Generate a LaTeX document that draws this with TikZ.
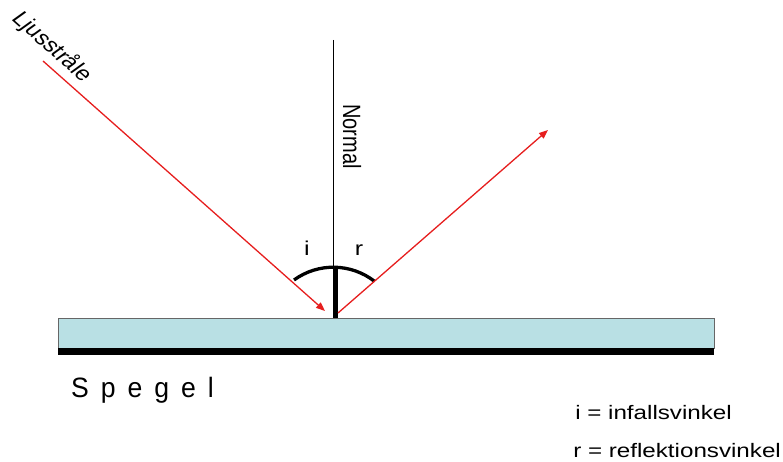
\documentclass[tikz,border=0pt]{standalone}
\usepackage{fontspec}
\setmainfont{Liberation Sans}
\usetikzlibrary{arrows.meta}
\definecolor{rayred}{RGB}{230,30,30}
\definecolor{glass}{RGB}{185,224,228}

\begin{document}
\begin{tikzpicture}[
    x=1pt, y=-1pt,
    ray/.style={draw, rayred, line width=1.3pt, -{Triangle[length=9pt,width=7pt]}},
    lbl/.style={inner sep=0pt, xscale=1.25, font=\fontsize{20}{24}\selectfont},
    key/.style={inner sep=0pt, anchor=base west, xscale=1.24, font=\fontsize{19.5}{24}\selectfont}
]
\useasboundingbox (0,0) rectangle (783,462);

% mirror
\filldraw[fill=glass, draw=black!60, line width=0.6pt] (58,318) rectangle (714,348);
\fill[black] (58,348) rectangle (714,355);

% normal and angle mark
\coordinate (top) at (333,40);
\coordinate (foot) at (333,318);
\draw[line width=0.8pt] (top) -- (foot);
\draw[line width=4pt] (335.5,267) -- (335.5,318);
\draw[line width=3.3pt] (294,280) arc[start angle=-126, end angle=-52, radius=67];

% rays
\coordinate (src) at (43,61);
\coordinate (hit) at (325,311);
\coordinate (start) at (338,313);
\coordinate (dst) at (548,130);
\draw[ray] (src) -- (hit);
\draw[ray] (start) -- (dst);

% labels
\node[lbl, rotate=-48] (ljus) at (52,47) {Ljusstråle};
\node[lbl, anchor=base west, rotate=-90] (normal) at (343,104) {Normal};
\node[lbl, anchor=base] (ilbl) at (307,255) {i};
\node[lbl, anchor=base] (rlbl) at (359,255) {r};
\node[inner sep=0pt, anchor=base west, xscale=0.95,
      font=\fontsize{28}{32}\selectfont\addfontfeature{LetterSpace=45}] (spegel) at (71,397) {Spegel};
\node[key] (ikey) at (575,419) {i = infallsvinkel};
\node[key] (rkey) at (573,457) {r = reflektionsvinkel};
\end{tikzpicture}
\end{document}
